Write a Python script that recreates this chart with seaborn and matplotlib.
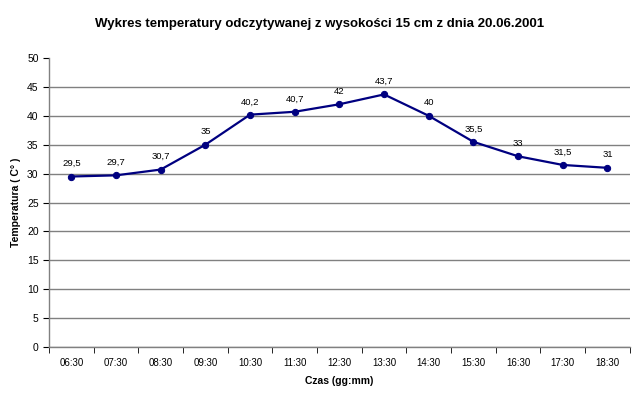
import numpy as np
import pandas as pd
import matplotlib
matplotlib.use("Agg")
import matplotlib.pyplot as plt
import seaborn as sns

godziny = ["06:30", "07:30", "08:30", "09:30", "10:30", "11:30", "12:30",
           "13:30", "14:30", "15:30", "16:30", "17:30", "18:30"]
temperatury = [29.5, 29.7, 30.7, 35, 40.2, 40.7, 42, 43.7, 40, 35.5, 33, 31.5, 31]
etykiety = ["29,5", "29,7", "30,7", "35", "40,2", "40,7", "42", "43,7", "40",
            "35,5", "33", "31,5", "31"]

sns.set_style("white")
plt.rcParams["font.family"] = ["Liberation Sans", "DejaVu Sans"]

df = pd.DataFrame({"czas": godziny, "temp": temperatury})
df["poz"] = np.arange(len(df))

fig = plt.figure(figsize=(6.4, 3.99), dpi=100)
ax = fig.add_axes([0.0766, 0.1303, 0.9074, 0.7243])

ax.yaxis.grid(True, color="#808080", linewidth=1)
ax.set_axisbelow(True)
sns.lineplot(data=df, x="poz", y="temp", color="#000080", linewidth=1.6,
             marker="o", markersize=4.5, markeredgecolor="#000080", ax=ax)

for x, y, t in zip(df["poz"], df["temp"], etykiety):
    ax.annotate(t, (x, y), xytext=(0, 6), textcoords="offset points",
                ha="center", va="bottom", fontsize=6.8, color="#000000")

ax.set_xlim(-0.5, len(godziny) - 0.5)
ax.set_ylim(0, 50)
ax.set_yticks(np.arange(0, 51, 5))
ax.set_xticks(df["poz"])
ax.set_xticklabels(godziny)
ax.set_xticks(np.arange(-0.5, len(godziny), 1), minor=True)
ax.tick_params(axis="x", which="major", length=0, labelsize=7, pad=8, labelcolor="#000000")
ax.tick_params(axis="x", which="minor", length=4, direction="out", color="#000000", bottom=True)
ax.tick_params(axis="y", length=4, direction="out", color="#000000", labelsize=7.5,
               left=True, labelcolor="#000000")
# brak linii siatki na 50 (jak w oryginale)
ax.get_ygridlines()[-1].set_visible(False)

for s in ["top", "right"]:
    ax.spines[s].set_visible(False)
for s in ["left", "bottom"]:
    ax.spines[s].set_color("#808080")
    ax.spines[s].set_linewidth(1)

ax.set_xlabel("Czas (gg:mm)", fontsize=7.5, fontweight="bold", labelpad=6, color="#000000")
ax.set_ylabel("Temperatura ( C° )", fontsize=7.5, fontweight="bold", labelpad=4, color="#000000")
fig.suptitle("Wykres temperatury odczytywanej z wysokości 15 cm z dnia 20.06.2001",
             fontsize=9.5, fontweight="bold", y=0.955, color="#000000")

fig.savefig("out.png", dpi=100)
